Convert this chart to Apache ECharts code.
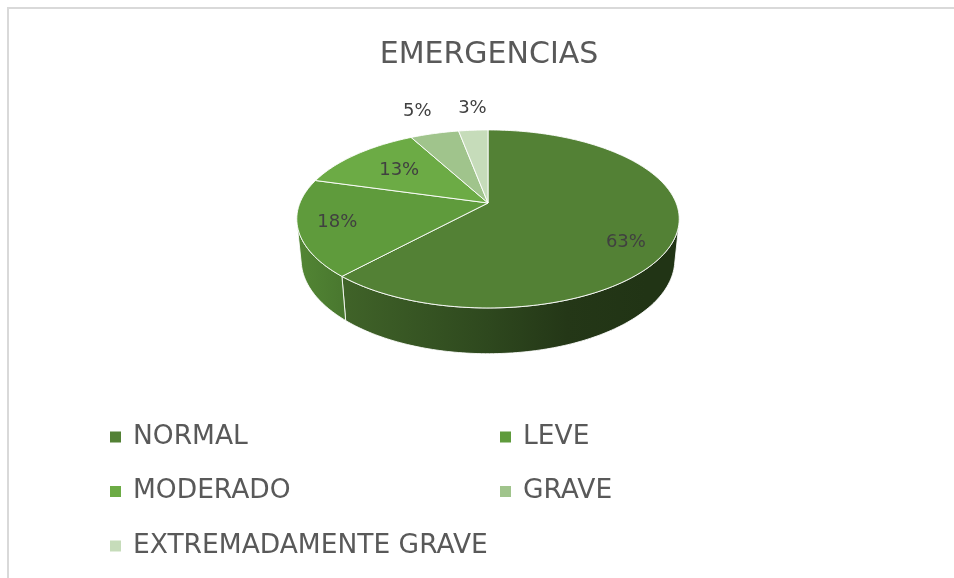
<!DOCTYPE html>
<html>
<head>
<meta charset="utf-8">
<script src="https://cdn.jsdelivr.net/npm/echarts@6/dist/echarts.min.js"></script>
<style>
  html, body { margin: 0; padding: 0; background: #ffffff; }
  #chart { width: 954px; height: 578px; }
</style>
</head>
<body>
<div id="chart"></div>
<script>
// Chart content
const chartTitle = 'EMERGENCIAS';
const categories = ['NORMAL', 'LEVE', 'MODERADO', 'GRAVE', 'EXTREMADAMENTE GRAVE'];
const percentValues = [63, 18, 13, 5, 3];

// Styling
const sliceColors = ['#538135', '#5f9b3c', '#6cab45', '#a0c48c', '#c6dcba'];
// [radius as fraction of the disc, angular shift in degrees] for each percentage label
const labelAnchors = [[0.8, 11], [0.8, 0], [0.65, 0], [1.4, 0], [1.38, 1]];
const legendColumns = [['NORMAL', 'MODERADO', 'EXTREMADAMENTE GRAVE'], ['LEVE', 'GRAVE']];

const TAU = Math.PI * 2;
const total = percentValues.reduce((a, b) => a + b, 0);
const startFrac = [];
let running = 0;
percentValues.forEach(v => { startFrac.push(running / total); running += v; });

// Perspective camera looking down on a thick disc of radius 1
const view = { cx: 488, cy: 203, focal: 934, dist: 4.965, tilt: Math.asin(0.458), thick: 0.245 };
const sinT = Math.sin(view.tilt), cosT = Math.cos(view.tilt);
function project(x, y, z) {
  const zc = y * cosT - z * sinT + view.dist;
  return [view.cx + view.focal * x / zc, view.cy - view.focal * (y * sinT + z * cosT) / zc];
}
// angle a is measured clockwise from 12 o'clock, seen from above
function discPoint(a, r, z) {
  return project(r * Math.sin(a), r * Math.cos(a), z);
}
// the outer wall faces the camera where cos(a) < -1/(dist*cos(tilt))
const wallFrom = Math.acos(-1 / (view.dist * cosT));
const wallTo = TAU - wallFrom;

function shade(hex, f) {
  const n = parseInt(hex.slice(1), 16);
  const r = Math.round(((n >> 16) & 255) * f);
  const g = Math.round(((n >> 8) & 255) * f);
  const b = Math.round((n & 255) * f);
  return 'rgb(' + r + ',' + g + ',' + b + ')';
}
// darker towards the right-hand side of the wall
const wallShading = [[0, 0.86], [0.13, 0.76], [0.5, 0.56], [0.71, 0.43], [0.92, 0.4], [1, 0.4]];
const leftX = project(-1, 0, 0)[0], rightX = project(1, 0, 0)[0];

function arc(a0, a1, r, z) {
  const n = Math.max(2, Math.ceil((a1 - a0) / (Math.PI / 180)));
  const pts = [];
  for (let k = 0; k <= n; k++) pts.push(discPoint(a0 + (a1 - a0) * k / n, r, z));
  return pts;
}

function renderSlice(params, api) {
  const i = params.dataIndex;
  const v = api.value(0);
  const a0 = startFrac[i] * TAU;
  const a1 = a0 + v / total * TAU;
  const color = sliceColors[i];
  const children = [];

  const lo = Math.max(a0, wallFrom), hi = Math.min(a1, wallTo);
  if (hi > lo) {
    const top = arc(lo, hi, 1, 0);
    const bottom = arc(lo, hi, 1, -view.thick).reverse();
    children.push({
      type: 'polygon',
      z2: 1,
      shape: { points: top.concat(bottom) },
      style: {
        fill: {
          type: 'linear', global: true,
          x: leftX, y: view.cy, x2: rightX, y2: view.cy,
          colorStops: wallShading.map(s => ({ offset: s[0], color: shade(color, s[1]) }))
        },
        stroke: 'rgba(255,255,255,0.85)', lineWidth: 1
      }
    });
  }

  children.push({
    type: 'polygon',
    z2: 5,
    shape: { points: [project(0, 0, 0)].concat(arc(a0, a1, 1, 0)) },
    style: { fill: color, stroke: 'rgba(255,255,255,0.9)', lineWidth: 1 }
  });

  const anchor = labelAnchors[i];
  const mid = (a0 + a1) / 2 + anchor[1] * Math.PI / 180;
  const pos = discPoint(mid, anchor[0], 0);
  children.push({
    type: 'text',
    z2: 10,
    x: pos[0], y: pos[1],
    style: {
      text: v + '%',
      fill: '#404040',
      font: '18px "DejaVu Sans"',
      align: 'center',
      verticalAlign: 'middle'
    }
  });

  return { type: 'group', children: children };
}

const sliceData = percentValues.map((v, i) => ({ name: categories[i], value: v }));

const legendBase = {
  orient: 'vertical',
  top: 417,
  icon: 'rect',
  itemWidth: 11,
  itemHeight: 11,
  itemGap: 24.5,
  selectedMode: false,
  textStyle: {
    fontFamily: 'DejaVu Sans',
    fontSize: 26.5,
    lineHeight: 30,
    color: '#595959',
    padding: [0, 0, 0, 7]
  }
};

const chart = echarts.init(document.getElementById('chart'), null, { renderer: 'canvas' });
chart.setOption({
  backgroundColor: '#ffffff',
  animation: false,
  title: {
    text: chartTitle,
    left: 484,
    textAlign: 'center',
    top: 35,
    textStyle: { fontFamily: 'DejaVu Sans', fontSize: 30, fontWeight: 'normal', color: '#595959' }
  },
  graphic: [{
    type: 'rect',
    silent: true,
    shape: { x: 8, y: 8, width: 1200, height: 800 },
    style: { fill: 'none', stroke: '#d9d9d9', lineWidth: 2 }
  }],
  legend: [
    Object.assign({}, legendBase, { left: 105, data: legendColumns[0] }),
    Object.assign({}, legendBase, { left: 495, data: legendColumns[1] })
  ],
  series: [
    {
      // supplies the legend entries and their colours
      type: 'pie',
      center: [-400, -400],
      radius: 5,
      silent: true,
      label: { show: false },
      labelLine: { show: false },
      color: sliceColors,
      data: sliceData
    },
    {
      type: 'custom',
      coordinateSystem: 'none',
      silent: true,
      renderItem: renderSlice,
      data: sliceData
    }
  ]
});
</script>
</body>
</html>
